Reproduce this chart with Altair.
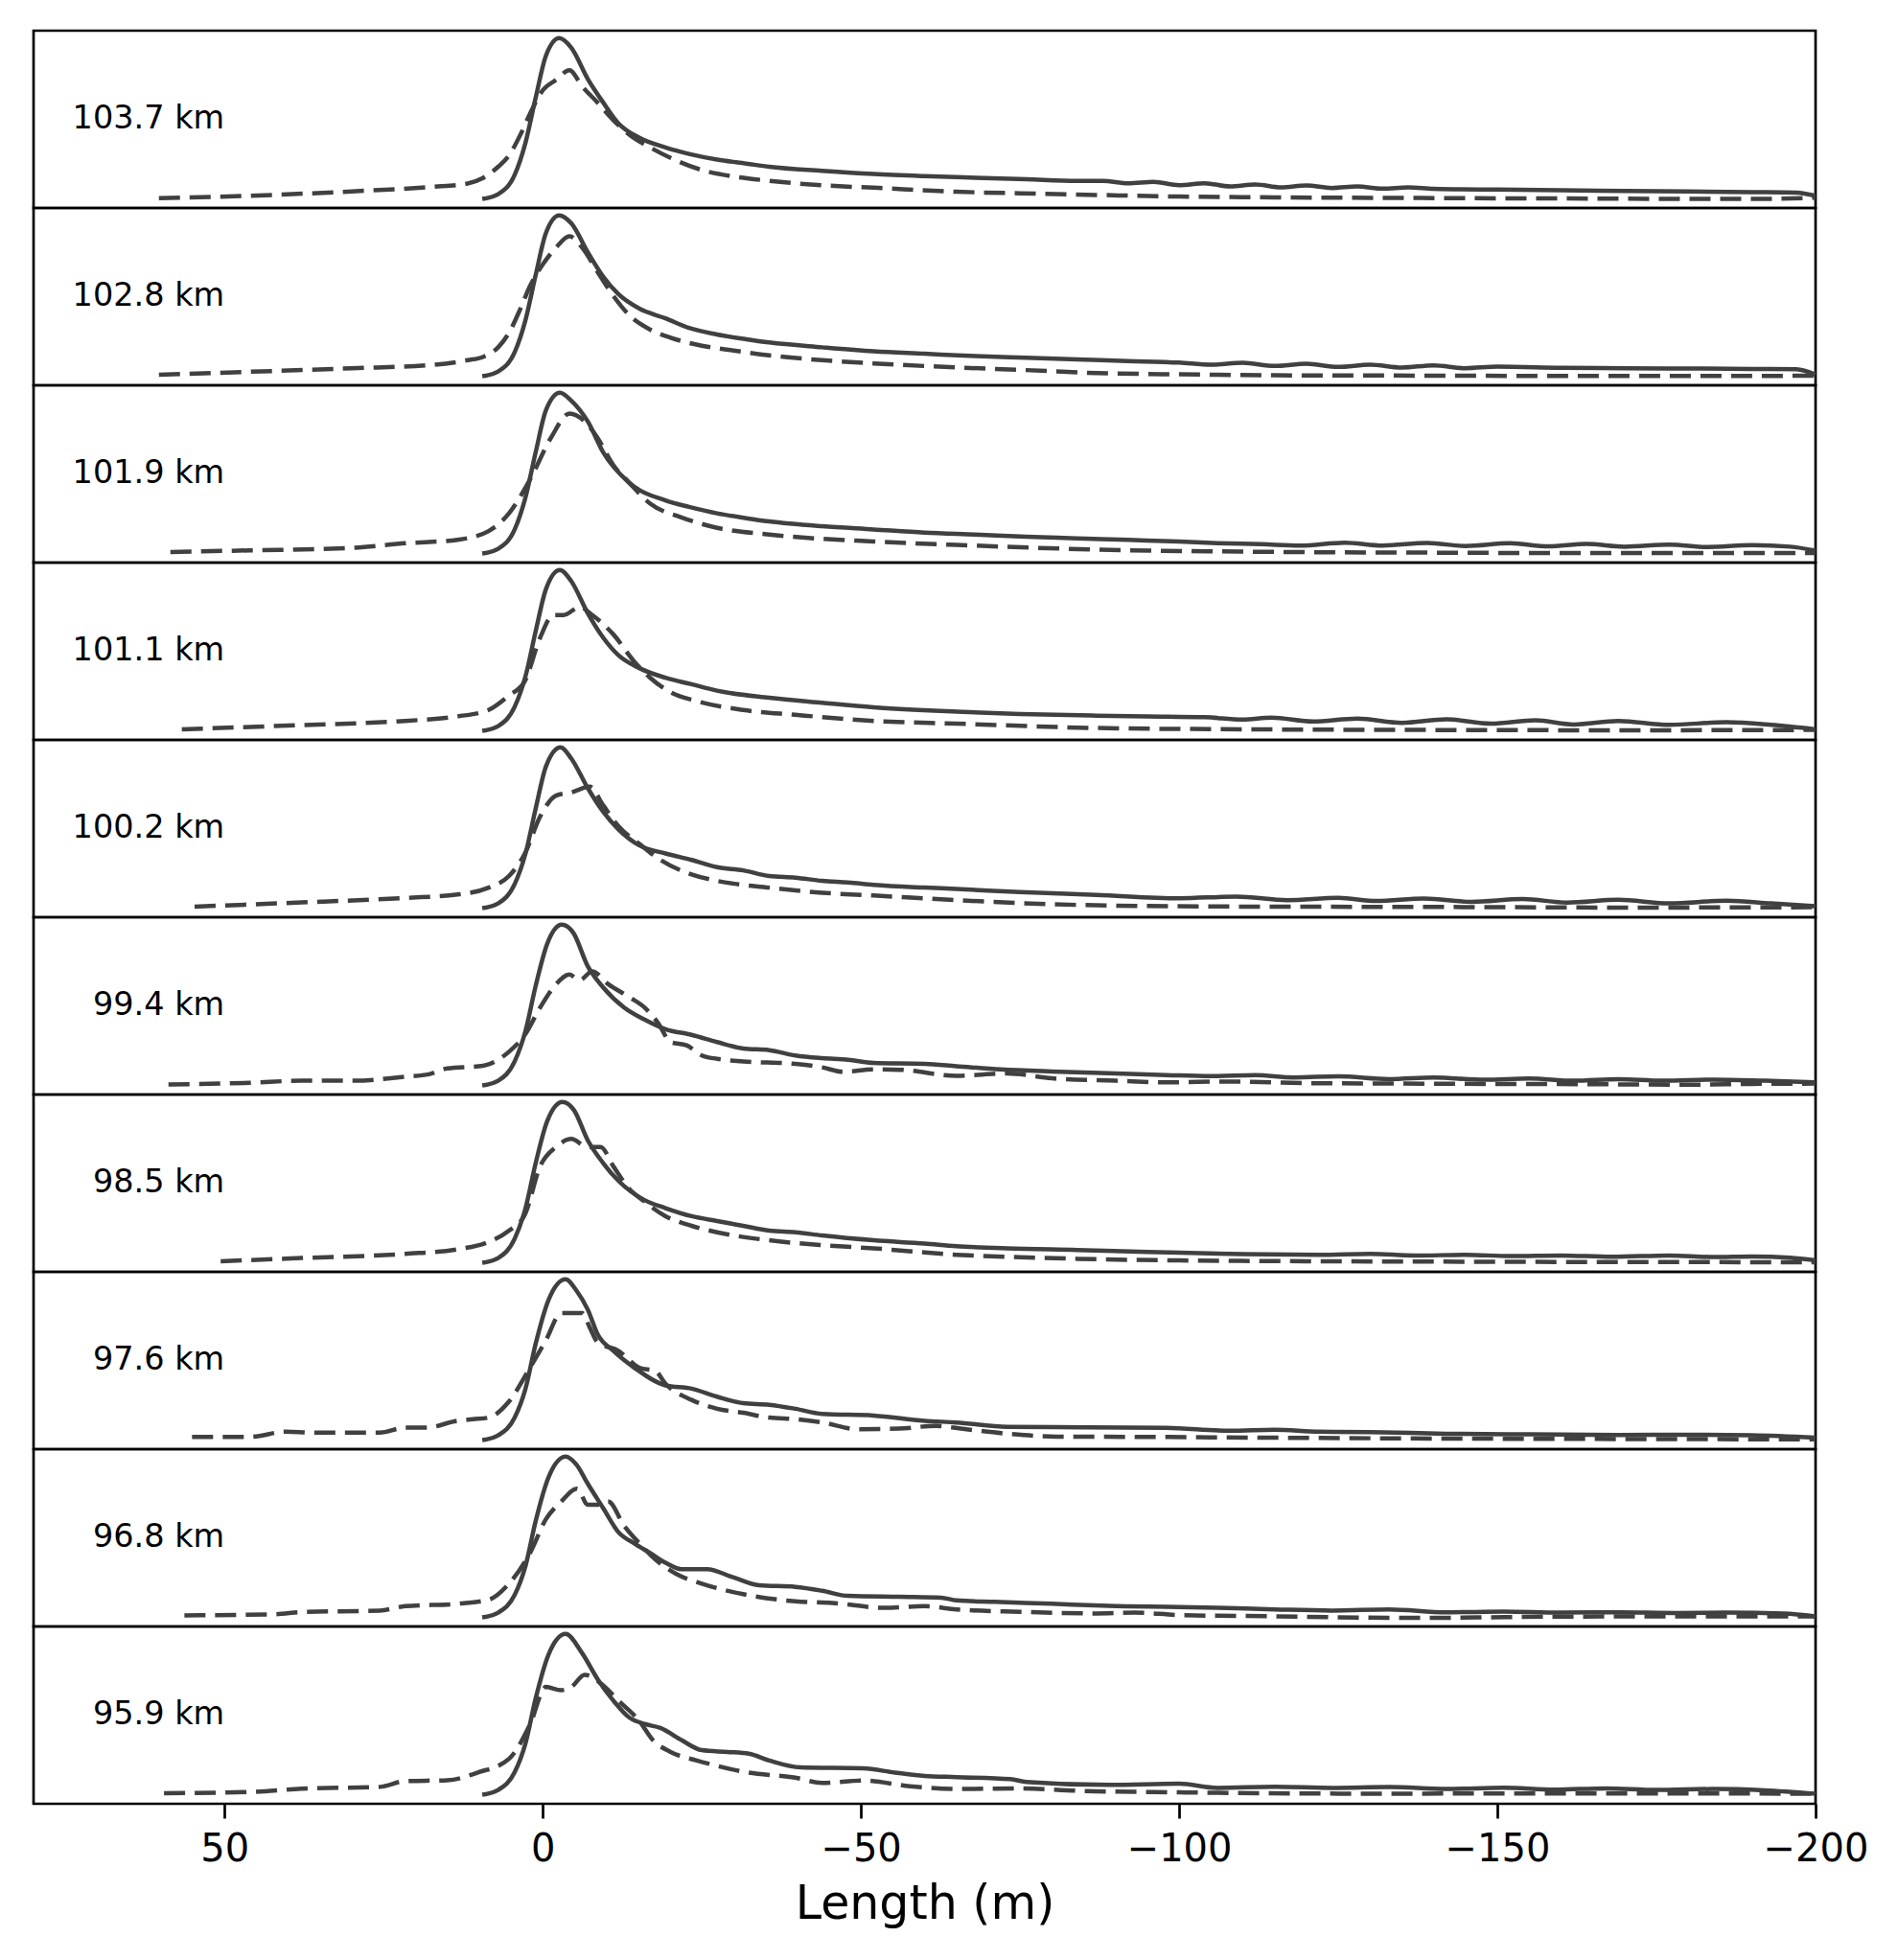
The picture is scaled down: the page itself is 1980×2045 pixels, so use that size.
import altair as alt
import pandas as pd

LABELS = ["103.7 km", "102.8 km", "101.9 km", "101.1 km", "100.2 km",
          "99.4 km", "98.5 km", "97.6 km", "96.8 km", "95.9 km"]

X_TICKS = [50, 0, -50, -100, -150, -200]

# (length m, normalised amplitude) pairs
P1_SOLID = [(9.5,0),(7,0.03),(4.4,0.15),(2.7,0.35),(1.1,0.63),(-0.5,0.89),(-2.6,1.0),(-4.5,0.94),(-7.1,0.745),(-9.5,0.60),(-11.9,0.47),(-15.2,0.38),(-19.3,0.32),(-23,0.28),(-27.4,0.245),(-32,0.22),(-35.6,0.20),(-43.9,0.175),(-52,0.155),(-60,0.142),(-68,0.132),(-76,0.122),(-84,0.112),(-88,0.112),(-92,0.097),(-96,0.106),(-100,0.086),(-104,0.098),(-108,0.078),(-112,0.09),(-116,0.072),(-120,0.084),(-124,0.068),(-128,0.078),(-132,0.064),(-136,0.072),(-140,0.063),(-150,0.058),(-160,0.054),(-170,0.05),(-180,0.047),(-190,0.043),(-197,0.04),(-200,0.02)]
P1_DASH = [(60.3,0.005),(46,0.02),(30,0.047),(17.5,0.075),(11.8,0.096),(9.4,0.13),(7,0.2),(5.3,0.27),(3.5,0.40),(2,0.53),(-0.1,0.68),(-2.1,0.74),(-4.2,0.80),(-6.2,0.70),(-8.6,0.60),(-11.1,0.49),(-13.6,0.40),(-16.9,0.32),(-20.1,0.255),(-25,0.18),(-30,0.14),(-35.6,0.113),(-43.9,0.085),(-52,0.07),(-65,0.045),(-75,0.035),(-87,0.025),(-100,0.015),(-115,0.01),(-138,0.006),(-160,0.003),(-190,0.0),(-200,0.008)]

P2_SOLID = [(9.5,0),(7,0.03),(4.4,0.15),(2.7,0.35),(1.1,0.63),(-0.5,0.89),(-2.6,1.0),(-4.5,0.95),(-7.1,0.77),(-9.5,0.62),(-11.9,0.51),(-15.2,0.42),(-19.3,0.36),(-23,0.30),(-27.4,0.26),(-32,0.23),(-35.6,0.21),(-43.9,0.18),(-52,0.155),(-60,0.14),(-68,0.125),(-76,0.115),(-84,0.105),(-92,0.095),(-100,0.085),(-105,0.072),(-110,0.084),(-115,0.064),(-120,0.078),(-125,0.058),(-130,0.072),(-135,0.054),(-140,0.068),(-145,0.05),(-150,0.06),(-160,0.053),(-170,0.05),(-180,0.048),(-190,0.046),(-197,0.044),(-200,0.01)]
P2_DASH = [(60.3,0.01),(46,0.028),(30,0.05),(17.5,0.07),(11.8,0.10),(9.4,0.12),(7,0.18),(5.3,0.27),(3.5,0.42),(2,0.56),(-0.1,0.70),(-2.1,0.80),(-4.2,0.87),(-6.2,0.80),(-8.6,0.65),(-11.1,0.50),(-13.6,0.38),(-16.9,0.29),(-20.1,0.24),(-25,0.19),(-30,0.16),(-35.6,0.13),(-43.9,0.10),(-52,0.08),(-65,0.055),(-75,0.04),(-87,0.02),(-100,0.012),(-115,0.006),(-138,0.004),(-160,0.002),(-190,0.002),(-200,0.004)]

P3_SOLID = [(9.5,0),(7,0.03),(4.4,0.15),(2.7,0.35),(1.1,0.63),(-0.5,0.89),(-2.7,1.0),(-4.5,0.95),(-7.1,0.82),(-9.5,0.63),(-13.6,0.44),(-19.3,0.33),(-23,0.29),(-27.4,0.25),(-32,0.22),(-35.6,0.20),(-43.9,0.17),(-52,0.15),(-60,0.13),(-68,0.118),(-76,0.105),(-84,0.095),(-92,0.085),(-100,0.075),(-106,0.065),(-113,0.058),(-119,0.05),(-126,0.068),(-132,0.05),(-139,0.066),(-145,0.047),(-152,0.064),(-158,0.045),(-164,0.06),(-170,0.043),(-177,0.056),(-183,0.041),(-190,0.052),(-196,0.043),(-200,0.018)]
P3_DASH = [(58.5,0.01),(46,0.02),(30,0.035),(21.6,0.064),(13.4,0.086),(8.5,0.14),(5.3,0.25),(2,0.46),(-1.3,0.72),(-4.2,0.87),(-7.1,0.80),(-8.6,0.72),(-11.1,0.55),(-13.6,0.44),(-16.9,0.31),(-21.8,0.225),(-27.4,0.16),(-35.6,0.118),(-52,0.075),(-65,0.054),(-87,0.025),(-110,0.012),(-138,0.006),(-170,0.003),(-200,0.004)]

P4_SOLID = [(9.5,0),(7,0.03),(4.4,0.15),(2.7,0.34),(1.1,0.62),(-0.5,0.88),(-2.7,1.0),(-4.5,0.93),(-7.1,0.73),(-9.5,0.58),(-11.9,0.47),(-15.2,0.39),(-19.3,0.33),(-23.4,0.29),(-27.4,0.25),(-35.6,0.206),(-43.9,0.175),(-52,0.147),(-65,0.12),(-75,0.105),(-87,0.095),(-95,0.09),(-104,0.085),(-110,0.07),(-114.5,0.082),(-121,0.058),(-128,0.076),(-135,0.05),(-142,0.072),(-149,0.045),(-156,0.066),(-162,0.04),(-169,0.062),(-177,0.038),(-186,0.054),(-193,0.038),(-200,0.01)]
P4_DASH = [(56.7,0.01),(37.9,0.036),(21.6,0.062),(13.4,0.09),(8.5,0.13),(5.3,0.22),(2.8,0.31),(0.4,0.58),(-1.7,0.72),(-3.3,0.72),(-5.8,0.77),(-7.8,0.72),(-11.1,0.60),(-14.4,0.43),(-16.9,0.33),(-20.1,0.24),(-24.2,0.185),(-31.5,0.13),(-39.7,0.10),(-52,0.062),(-65,0.045),(-87,0.018),(-110,0.01),(-138,0.006),(-170,0.004),(-200,0.006)]

P5_SOLID = [(9.5,0),(7,0.03),(4.4,0.15),(2.7,0.34),(1.1,0.62),(-0.5,0.88),(-2.8,1.0),(-4.5,0.93),(-7.1,0.745),(-9.5,0.60),(-11.9,0.49),(-15.2,0.39),(-19.3,0.34),(-23.4,0.30),(-27.4,0.255),(-31.5,0.235),(-35.6,0.20),(-39.7,0.19),(-43.9,0.17),(-48,0.16),(-52,0.145),(-60,0.128),(-65,0.12),(-75,0.10),(-87,0.083),(-100,0.062),(-109,0.072),(-117,0.05),(-125,0.064),(-131,0.045),(-138.5,0.06),(-146,0.04),(-154,0.057),(-161,0.035),(-169,0.052),(-177,0.03),(-186,0.047),(-193,0.03),(-200,0.012)]
P5_DASH = [(54.7,0.01),(37.9,0.036),(21.6,0.064),(13.4,0.085),(8.5,0.128),(5.3,0.20),(2.8,0.34),(0.4,0.57),(-2.1,0.70),(-4.5,0.72),(-7.4,0.755),(-9.5,0.64),(-11.9,0.51),(-15.2,0.40),(-18.5,0.30),(-23.4,0.21),(-27.4,0.17),(-35.6,0.128),(-43.9,0.096),(-52,0.079),(-65,0.05),(-87,0.018),(-110,0.01),(-138,0.008),(-170,0.004),(-200,0.006)]

P6_SOLID = [(9.5,0),(7,0.03),(4.4,0.15),(2.7,0.34),(1.1,0.62),(-0.7,0.88),(-3.0,1.0),(-4.8,0.95),(-7.1,0.74),(-9.5,0.61),(-12.8,0.485),(-16,0.41),(-19.3,0.35),(-23.4,0.315),(-27.4,0.27),(-31.5,0.23),(-35.6,0.22),(-39.7,0.187),(-43.9,0.17),(-48,0.16),(-52,0.14),(-60,0.134),(-65,0.12),(-72,0.10),(-80,0.087),(-90,0.075),(-98,0.065),(-105,0.058),(-112,0.064),(-118,0.05),(-125,0.057),(-133,0.04),(-140,0.05),(-148,0.036),(-155,0.044),(-162,0.03),(-169,0.04),(-176,0.03),(-184,0.037),(-192,0.03),(-200,0.02)]
P6_DASH = [(58.8,0.006),(46,0.017),(37.9,0.03),(29.7,0.03),(21.6,0.055),(17.9,0.07),(15,0.106),(9.4,0.123),(5.3,0.21),(2.8,0.315),(0.4,0.485),(-2.1,0.63),(-4.2,0.69),(-5.8,0.655),(-7.8,0.71),(-10.3,0.63),(-13.6,0.55),(-16,0.485),(-18.1,0.39),(-20.1,0.27),(-22.6,0.25),(-25,0.187),(-27.4,0.166),(-31.5,0.15),(-39.7,0.134),(-43.9,0.113),(-47.2,0.085),(-52,0.10),(-56,0.098),(-65,0.06),(-73,0.075),(-80,0.045),(-90,0.03),(-98,0.02),(-108,0.025),(-120,0.015),(-135,0.012),(-150,0.01),(-165,0.008),(-180,0.005),(-190,0.01),(-200,0.012)]

P7_SOLID = [(9.5,0),(7,0.03),(4.4,0.15),(2.7,0.34),(1.1,0.62),(-0.7,0.88),(-3.1,1.0),(-4.9,0.95),(-7.1,0.76),(-9.5,0.62),(-11.9,0.51),(-16,0.39),(-19.3,0.34),(-23.4,0.29),(-27.4,0.26),(-31.5,0.23),(-35.6,0.20),(-39.7,0.19),(-43.9,0.17),(-52,0.14),(-60,0.12),(-65,0.104),(-73,0.09),(-84,0.08),(-95,0.068),(-110,0.054),(-122,0.05),(-130,0.056),(-137,0.045),(-145,0.05),(-152,0.042),(-160,0.046),(-168,0.038),(-177,0.046),(-184,0.036),(-190,0.04),(-196,0.032),(-200,0.015)]
P7_DASH = [(50.6,0.01),(37.9,0.03),(21.6,0.056),(13.4,0.084),(8.5,0.13),(5.3,0.20),(2.8,0.30),(0.4,0.60),(-2.1,0.72),(-4.5,0.77),(-7,0.72),(-9.1,0.72),(-11.1,0.60),(-13.6,0.46),(-16,0.38),(-19.3,0.29),(-23.4,0.23),(-27.4,0.19),(-35.6,0.14),(-43.9,0.11),(-52,0.09),(-65,0.05),(-75,0.035),(-84,0.025),(-100,0.015),(-120,0.01),(-145,0.007),(-170,0.005),(-200,0.004)]

P8_SOLID = [(9.5,0),(7,0.03),(4.4,0.14),(2.7,0.32),(1.1,0.6),(-0.9,0.87),(-3.6,1.0),(-5.3,0.93),(-7.1,0.81),(-8.6,0.66),(-11.1,0.555),(-14.4,0.45),(-19.3,0.34),(-23.4,0.32),(-27.4,0.27),(-31.5,0.23),(-35.6,0.22),(-39.7,0.195),(-43.9,0.163),(-52,0.153),(-60,0.12),(-65,0.11),(-73,0.083),(-85,0.08),(-98,0.076),(-108,0.058),(-115,0.065),(-122,0.052),(-130,0.05),(-142,0.04),(-155,0.036),(-169,0.032),(-180,0.034),(-190,0.03),(-200,0.015)]
P8_DASH = [(55.1,0.02),(46,0.02),(40.3,0.053),(36.2,0.047),(25.6,0.047),(21.6,0.078),(18.3,0.078),(13.4,0.12),(11,0.13),(8.5,0.14),(5.3,0.24),(2.0,0.45),(-0.5,0.62),(-2.9,0.79),(-6.2,0.79),(-7.4,0.70),(-8.6,0.61),(-11.9,0.555),(-15.2,0.45),(-17.7,0.43),(-19.3,0.35),(-23.4,0.25),(-27.4,0.195),(-31.5,0.17),(-35.6,0.14),(-39.7,0.13),(-43.9,0.11),(-49.6,0.068),(-56,0.072),(-61.8,0.089),(-66,0.07),(-73,0.04),(-80.7,0.022),(-95,0.02),(-115,0.015),(-140,0.01),(-170,0.007),(-200,0.005)]

P9_SOLID = [(9.5,0),(7,0.03),(4.4,0.14),(2.7,0.32),(1.1,0.6),(-0.9,0.87),(-3.6,1.0),(-5.3,0.95),(-7.1,0.83),(-9.5,0.68),(-11.9,0.53),(-14.4,0.46),(-16.9,0.40),(-19.3,0.34),(-21.8,0.30),(-25.8,0.30),(-29.9,0.25),(-34,0.20),(-39.7,0.19),(-43.9,0.166),(-48,0.134),(-56,0.128),(-62.6,0.123),(-65,0.106),(-71,0.097),(-80,0.085),(-89,0.072),(-100,0.065),(-106,0.06),(-115,0.05),(-124,0.043),(-133,0.05),(-142,0.032),(-151,0.036),(-160,0.03),(-169,0.032),(-178,0.028),(-186,0.03),(-195,0.025),(-200,0.007)]
P9_DASH = [(56.3,0.013),(41.9,0.02),(37.9,0.034),(25.6,0.043),(21.6,0.07),(13.4,0.085),(8.5,0.11),(5.3,0.21),(2.0,0.40),(-0.5,0.61),(-2.9,0.72),(-5.4,0.80),(-7.1,0.70),(-8.6,0.70),(-10.3,0.72),(-12.8,0.57),(-15.2,0.46),(-17.7,0.36),(-21,0.27),(-25,0.21),(-31.5,0.145),(-39.7,0.10),(-45.5,0.09),(-53.6,0.06),(-60,0.07),(-65,0.05),(-75,0.035),(-87,0.025),(-93,0.03),(-100,0.015),(-115,0.007),(-136,-0.003),(-160,0.005),(-185,0.007),(-200,0.007)]

P10_SOLID = [(9.5,0),(7,0.03),(4.4,0.14),(2.7,0.32),(1.1,0.6),(-0.9,0.87),(-3.6,1.0),(-6.2,0.88),(-8.6,0.72),(-11.1,0.585),(-13.6,0.48),(-16,0.44),(-18.5,0.415),(-21.8,0.34),(-25,0.277),(-29.1,0.266),(-32.4,0.255),(-35.6,0.213),(-40.5,0.17),(-50.4,0.164),(-55.3,0.138),(-60,0.117),(-65,0.11),(-73.5,0.097),(-76,0.08),(-89,0.061),(-100,0.069),(-106,0.043),(-115,0.05),(-124,0.043),(-133,0.048),(-142,0.036),(-151,0.044),(-159,0.032),(-167,0.04),(-175,0.03),(-184,0.036),(-192,0.028),(-200,0.007)]
P10_DASH = [(59.5,0.01),(46,0.017),(37.9,0.038),(25.6,0.049),(21.6,0.085),(15,0.09),(10.2,0.138),(5.3,0.223),(2.0,0.436),(-0.5,0.67),(-2.9,0.65),(-4.5,0.67),(-6.6,0.745),(-9.5,0.68),(-11.9,0.585),(-15.2,0.457),(-17.3,0.34),(-20.1,0.266),(-24.2,0.213),(-27.4,0.18),(-31.5,0.143),(-39.7,0.106),(-43.9,0.074),(-50.4,0.089),(-57.7,0.053),(-65,0.036),(-75,0.04),(-84,0.025),(-100,0.015),(-130,0.007),(-160,0.008),(-200,0.007)]

SOLIDS = [P1_SOLID, P2_SOLID, P3_SOLID, P4_SOLID, P5_SOLID,
          P6_SOLID, P7_SOLID, P8_SOLID, P9_SOLID, P10_SOLID]
DASHES = [P1_DASH, P2_DASH, P3_DASH, P4_DASH, P5_DASH,
          P6_DASH, P7_DASH, P8_DASH, P9_DASH, P10_DASH]

LINE_COLOR = "#404040"
FONT = "DejaVu Sans"
W, H = 1859, 185


def panel(i, last):
    s = pd.DataFrame(SOLIDS[i], columns=["x", "y"])
    d = pd.DataFrame(DASHES[i], columns=["x", "y"])
    lab = pd.DataFrame({"x": [50], "y": [0.5], "t": [LABELS[i]]})
    if last:
        ax = alt.Axis(values=X_TICKS, title="Length (m)", domain=False,
                      grid=False, tickSize=15, tickWidth=2.7, tickColor="black",
                      labelFont=FONT, labelFontSize=40, labelColor="black",
                      labelPadding=12, labelFlush=False,
                      titleFont=FONT, titleFontSize=49, titleFontWeight="normal",
                      titleColor="black", titlePadding=13)
    else:
        ax = None
    xs = alt.Scale(domain=[-200, 80], reverse=True, nice=False, zero=False)
    ys = alt.Scale(domain=[-0.056, 1.046], nice=False, zero=False)
    xe = alt.X("x:Q", scale=xs, axis=ax)
    ye = alt.Y("y:Q", scale=ys, axis=None)
    order = alt.Order("x:Q", sort="descending")
    solid = alt.Chart(s).mark_line(color=LINE_COLOR, strokeWidth=4.5,
                                   interpolate="monotone").encode(x=xe, y=ye, order=order)
    dashed = alt.Chart(d).mark_line(color=LINE_COLOR, strokeWidth=4.5,
                                    strokeDash=[22, 10],
                                    interpolate="monotone").encode(x=xe, y=ye, order=order)
    text = alt.Chart(lab).mark_text(align="right", baseline="middle", font=FONT,
                                    fontSize=33.5, color="black").encode(
        x=alt.X("x:Q", scale=xs, axis=ax), y=alt.Y("y:Q", scale=ys, axis=None), text="t:N")
    return alt.layer(solid, dashed, text).properties(width=W, height=H)


panels = [panel(i, i == len(LABELS) - 1) for i in range(len(LABELS))]
chart = alt.vconcat(*panels, spacing=0, bounds="flush").properties(
    padding={"left": 25, "top": 21, "right": 0, "bottom": 0}
).configure(background="white").configure_view(stroke="black", strokeWidth=2.7)

chart.save("out.html", embed_options={"renderer": "svg", "actions": False})
